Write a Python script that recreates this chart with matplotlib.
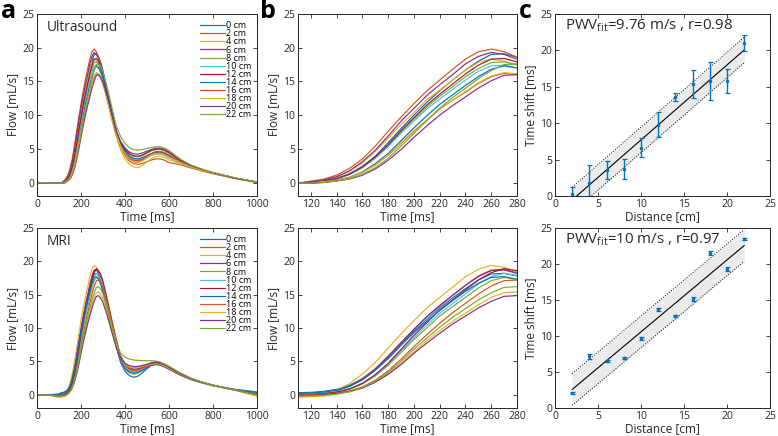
import matplotlib

matplotlib.use("Agg")
import matplotlib.pyplot as plt
import numpy as np

# ---- data ----
time_ms = [0, 60, 100, 110, 120, 130, 140, 150, 160, 170, 180, 190, 200, 210,
           220, 230, 240, 250, 260, 270, 280, 290, 300, 320, 340, 360, 380,
           400, 420, 440, 460, 480, 500, 520, 540, 560, 580, 600, 650, 700,
           750, 800, 900, 1000]
positions = ["0 cm", "2 cm", "4 cm", "6 cm", "8 cm", "10 cm", "12 cm",
             "14 cm", "16 cm", "18 cm", "20 cm", "22 cm"]

# ultrasound flow [mL/s]
us_0 = [0.0, -0.05, -0.1, -0.1, 0.0, 0.2, 0.6, 1.3, 2.4, 3.9, 5.9, 8.0, 10.0, 11.9, 13.6, 15.2, 16.7, 18.0, 19.0, 19.1, 18.6, 17.8, 16.6, 13.6, 10.6, 7.8, 5.6, 4.3, 3.5, 3.1, 3.0, 3.3, 3.65, 4.05, 4.25, 4.3, 4.1, 3.75, 2.95, 2.3, 1.8, 1.4, 0.65, 0.05]
us_2 = [0.0, -0.05, -0.1, -0.1, 0.2, 0.5, 1.1, 2.1, 3.5, 5.4, 7.6, 9.7, 11.7, 13.6, 15.2, 16.8, 18.3, 19.4, 19.8, 19.4, 18.6, 17.6, 16.1, 12.9, 9.8, 7.2, 5.2, 4.0, 3.15, 2.8, 2.7, 2.85, 3.1, 3.35, 3.5, 3.5, 3.3, 2.95, 2.65, 2.15, 1.7, 1.3, 0.6, 0.05]
us_4 = [0.0, -0.05, -0.1, -0.1, 0.15, 0.37, 0.82, 1.65, 2.9, 4.6, 6.6, 8.6, 10.4, 12.3, 13.7, 15.2, 16.7, 17.8, 18.3, 18.0, 17.4, 16.5, 15.2, 12.3, 9.3, 6.9, 4.8, 3.5, 2.7, 2.3, 2.2, 2.55, 3.05, 3.55, 3.85, 3.9, 3.7, 3.35, 2.8, 2.25, 1.75, 1.35, 0.6, 0.0]
us_6 = [0.0, -0.05, -0.1, -0.1, 0.15, 0.39, 0.87, 1.74, 3.1, 4.8, 6.9, 9.1, 11.0, 12.9, 14.5, 16.0, 17.6, 18.7, 19.3, 19.0, 18.3, 17.4, 16.0, 12.9, 9.8, 7.2, 5.4, 4.3, 3.6, 3.3, 3.2, 3.5, 3.9, 4.3, 4.55, 4.6, 4.4, 4.05, 3.1, 2.4, 1.85, 1.4, 0.65, 0.05]
us_8 = [0.0, -0.05, -0.1, -0.1, 0.0, 0.25, 0.58, 1.2, 2.25, 3.7, 5.5, 7.5, 9.4, 11.2, 12.8, 14.2, 15.7, 16.9, 17.8, 17.9, 17.5, 16.7, 15.6, 12.8, 9.9, 7.3, 5.7, 4.8, 4.15, 3.87, 3.8, 4.0, 4.35, 4.7, 4.88, 4.9, 4.7, 4.35, 3.2, 2.45, 1.9, 1.45, 0.65, 0.05]
us_10 = [0.0, -0.05, -0.1, -0.1, 0.0, 0.25, 0.56, 1.17, 2.2, 3.6, 5.3, 7.3, 9.1, 10.9, 12.4, 13.8, 15.2, 16.5, 17.3, 17.4, 17.0, 16.2, 15.2, 12.4, 9.6, 7.1, 5.4, 4.4, 3.77, 3.47, 3.4, 3.55, 3.8, 4.05, 4.18, 4.2, 4.0, 3.65, 2.9, 2.25, 1.8, 1.4, 0.65, 0.05]
us_12 = [0.0, -0.05, -0.1, -0.1, 0.0, 0.26, 0.59, 1.24, 2.3, 3.8, 5.6, 7.7, 9.6, 11.5, 13.1, 14.6, 16.1, 17.4, 18.3, 18.4, 17.9, 17.1, 16.0, 13.1, 10.2, 7.5, 5.9, 4.9, 4.26, 3.97, 3.9, 4.1, 4.45, 4.8, 4.98, 5.0, 4.8, 4.45, 3.3, 2.5, 1.9, 1.45, 0.65, 0.05]
us_14 = [0.0, -0.05, -0.1, -0.1, -0.1, 0.14, 0.35, 0.78, 1.56, 2.8, 4.3, 6.2, 8.1, 9.9, 11.6, 13.0, 14.4, 15.7, 16.8, 17.3, 17.0, 16.4, 15.6, 13.0, 10.2, 7.6, 5.75, 4.65, 3.9, 3.58, 3.5, 3.7, 4.0, 4.3, 4.48, 4.5, 4.3, 3.95, 3.0, 2.3, 1.8, 1.4, 0.65, 0.05]
us_16 = [0.0, -0.05, -0.1, -0.1, -0.1, 0.13, 0.32, 0.73, 1.46, 2.6, 4.05, 5.8, 7.6, 9.2, 10.9, 12.2, 13.4, 14.7, 15.7, 16.2, 16.0, 15.4, 14.6, 12.2, 9.6, 7.1, 5.35, 4.3, 3.6, 3.28, 3.2, 3.5, 3.9, 4.3, 4.55, 4.6, 4.4, 4.05, 3.1, 2.4, 1.85, 1.4, 0.65, 0.05]
us_18 = [0.0, -0.05, -0.1, -0.1, -0.1, 0.13, 0.33, 0.73, 1.47, 2.6, 4.1, 5.9, 7.7, 9.3, 10.9, 12.2, 13.5, 14.8, 15.8, 16.3, 16.1, 15.5, 14.7, 12.2, 9.6, 7.2, 5.3, 4.2, 3.4, 3.1, 3.0, 3.25, 3.65, 4.05, 4.27, 4.3, 4.1, 3.75, 2.95, 2.3, 1.8, 1.4, 0.65, 0.0]
us_20 = [0.0, -0.05, -0.1, -0.1, -0.1, 0.0, 0.23, 0.52, 1.08, 2.0, 3.3, 4.9, 6.7, 8.4, 10.0, 11.4, 12.7, 14.0, 15.1, 15.9, 16.0, 15.6, 14.9, 12.7, 10.1, 7.6, 6.1, 5.15, 4.5, 4.27, 4.2, 4.4, 4.65, 4.9, 5.08, 5.1, 4.9, 4.55, 3.35, 2.5, 1.95, 1.45, 0.65, 0.05]
us_22 = [0.0, -0.05, -0.1, -0.1, -0.1, 0.0, 0.25, 0.57, 1.19, 2.2, 3.6, 5.4, 7.3, 9.2, 11.0, 12.6, 14.0, 15.4, 16.6, 17.5, 17.6, 17.2, 16.4, 14.0, 11.2, 8.4, 6.8, 5.8, 5.15, 4.87, 4.8, 4.9, 5.05, 5.2, 5.3, 5.3, 5.1, 4.75, 3.5, 2.6, 2.0, 1.5, 0.7, 0.1]

# MRI flow [mL/s]
mri_0 = [0.0, 0.0, 0.1, 0.3, 0.35, 0.5, 0.8, 1.4, 2.4, 3.75, 5.6, 7.6, 9.5, 11.3, 13.0, 14.5, 15.9, 17.2, 18.1, 18.2, 17.8, 17.0, 15.9, 13.0, 10.1, 7.4, 4.8, 3.5, 2.85, 2.6, 2.8, 3.3, 3.9, 4.4, 4.6, 4.5, 4.25, 3.9, 3.0, 2.3, 1.8, 1.4, 0.8, 0.4]
mri_2 = [0.0, -0.1, -0.1, 0.1, 0.15, 0.3, 0.65, 1.27, 2.4, 3.9, 5.8, 7.8, 9.8, 11.7, 13.4, 14.9, 16.4, 17.8, 18.7, 18.8, 18.3, 17.5, 16.4, 13.4, 10.4, 7.7, 5.3, 4.1, 3.5, 3.3, 3.45, 3.85, 4.35, 4.75, 4.9, 4.8, 4.55, 4.2, 3.2, 2.4, 1.85, 1.4, 0.7, 0.0]
mri_4 = [0.0, -0.1, -0.4, -0.4, -0.24, 0.1, 0.7, 1.65, 3.1, 4.85, 7.0, 9.1, 11.1, 13.0, 14.6, 16.1, 17.7, 18.8, 19.4, 19.1, 18.4, 17.5, 16.1, 13.0, 9.9, 7.3, 4.9, 3.8, 3.2, 3.0, 3.2, 3.6, 4.1, 4.55, 4.7, 4.6, 4.35, 4.0, 3.1, 2.35, 1.8, 1.35, 0.65, -0.2]
mri_6 = [0.0, -0.1, -0.2, 0.0, 0.05, 0.26, 0.6, 1.26, 2.35, 3.85, 5.7, 7.8, 9.8, 11.7, 13.3, 14.9, 16.4, 17.7, 18.6, 18.7, 18.2, 17.4, 16.3, 13.3, 10.3, 7.7, 5.45, 4.35, 3.8, 3.6, 3.7, 4.0, 4.4, 4.7, 4.8, 4.7, 4.45, 4.1, 3.15, 2.4, 1.85, 1.4, 0.7, 0.1]
mri_8 = [0.0, -0.05, -0.1, 0.1, 0.1, 0.25, 0.4, 0.8, 1.6, 2.8, 4.4, 6.3, 8.3, 10.0, 11.8, 13.2, 14.6, 16.0, 17.1, 17.6, 17.3, 16.7, 15.8, 13.2, 10.4, 7.7, 5.7, 4.65, 4.2, 4.0, 4.1, 4.3, 4.5, 4.7, 4.8, 4.7, 4.45, 4.1, 3.15, 2.4, 1.85, 1.4, 0.7, 0.0]
mri_10 = [0.0, 0.0, 0.0, 0.2, 0.2, 0.35, 0.5, 0.9, 1.7, 2.9, 4.55, 6.55, 8.55, 10.4, 12.2, 13.65, 15.1, 16.6, 17.7, 18.2, 17.9, 17.3, 16.4, 13.65, 10.7, 8.0, 5.5, 4.2, 3.65, 3.4, 3.5, 3.8, 4.2, 4.5, 4.6, 4.5, 4.25, 3.9, 3.0, 2.3, 1.8, 1.4, 0.75, 0.3]
mri_12 = [0.0, -0.1, -0.2, 0.0, 0.0, 0.15, 0.38, 0.85, 1.7, 3.0, 4.7, 6.8, 8.9, 10.8, 12.7, 14.2, 15.7, 17.2, 18.3, 18.9, 18.6, 18.0, 17.0, 14.2, 11.2, 8.3, 5.8, 4.6, 4.05, 3.8, 3.9, 4.2, 4.5, 4.8, 4.9, 4.8, 4.55, 4.2, 3.2, 2.4, 1.85, 1.4, 0.7, 0.1]
mri_14 = [0.0, 0.0, 0.0, 0.2, 0.25, 0.4, 0.7, 1.25, 2.2, 3.65, 5.4, 7.4, 9.3, 11.0, 12.6, 14.1, 15.5, 16.7, 17.6, 17.7, 17.3, 16.5, 15.4, 12.6, 9.8, 7.2, 5.0, 3.9, 3.4, 3.2, 3.35, 3.65, 4.05, 4.4, 4.5, 4.4, 4.15, 3.8, 2.95, 2.25, 1.75, 1.35, 0.75, 0.35]
mri_16 = [0.0, -0.1, -0.2, 0.0, 0.0, 0.07, 0.24, 0.55, 1.16, 2.16, 3.55, 5.3, 7.2, 9.0, 10.7, 12.3, 13.7, 15.1, 16.3, 17.1, 17.2, 16.8, 16.0, 13.7, 10.9, 8.2, 5.7, 4.45, 3.85, 3.6, 3.7, 3.95, 4.25, 4.5, 4.6, 4.5, 4.25, 3.9, 3.0, 2.3, 1.8, 1.35, 0.7, 0.0]
mri_18 = [0.0, -0.1, -0.3, -0.3, -0.3, -0.2, 0.05, 0.4, 1.0, 1.94, 3.2, 4.7, 6.4, 8.1, 9.6, 11.0, 12.2, 13.5, 14.6, 15.3, 15.4, 15.0, 14.4, 12.2, 9.8, 7.4, 5.5, 4.6, 4.15, 4.0, 4.05, 4.25, 4.45, 4.65, 4.7, 4.6, 4.35, 4.0, 3.1, 2.35, 1.8, 1.35, 0.65, -0.2]
mri_20 = [0.0, -0.1, -0.2, -0.1, -0.1, 0.0, 0.2, 0.48, 1.0, 1.86, 3.05, 4.5, 6.2, 7.75, 9.2, 10.6, 11.8, 13.0, 14.0, 14.75, 14.85, 14.45, 13.8, 11.8, 9.4, 7.1, 5.5, 4.7, 4.35, 4.2, 4.25, 4.4, 4.55, 4.75, 4.8, 4.7, 4.45, 4.1, 3.15, 2.4, 1.85, 1.4, 0.7, 0.0]
mri_22 = [0.0, -0.1, -0.2, -0.2, -0.2, -0.1, 0.1, 0.45, 1.1, 2.0, 3.35, 5.0, 6.8, 8.5, 10.1, 11.6, 12.9, 14.2, 15.3, 16.1, 16.2, 15.8, 15.1, 12.9, 10.3, 7.7, 6.2, 5.6, 5.35, 5.2, 5.15, 5.1, 5.1, 5.1, 5.05, 4.9, 4.6, 4.25, 3.3, 2.5, 1.9, 1.45, 0.7, 0.0]

# time shift vs distance (panel c)
distance_cm = [2, 4, 6, 8, 10, 12, 14, 16, 18, 20, 22]
us_shift = [0.3, 1.8, 3.6, 3.7, 6.6, 9.8, 13.6, 15.4, 15.8, 15.8, 21.0]
us_shift_err = [1.0, 2.4, 1.2, 1.35, 1.3, 1.7, 0.5, 1.9, 2.6, 1.65, 1.15]
mri_shift = [2.1, 7.2, 6.5, 6.9, 9.7, 13.7, 12.8, 15.1, 21.5, 19.3, 23.5]
mri_shift_err = [0.15, 0.35, 0.1, 0.15, 0.2, 0.2, 0.1, 0.3, 0.25, 0.3, 0.15]
us_band = 1.75
mri_band = 2.2
us_fit_label = "PWV$_{\\mathrm{fit}}$=9.76 m/s , r=0.98"
mri_fit_label = "PWV$_{\\mathrm{fit}}$=10 m/s , r=0.97"

MATLAB_COLORS = ["#0072BD", "#D95319", "#EDB120", "#7E2F8E",
                 "#77AC30", "#4DBEEE", "#A2142F"]
AX_COLOR = "#262626"

plt.rcParams["font.family"] = ["Open Sans", "DejaVu Sans"]
plt.rcParams["mathtext.fontset"] = "custom"
plt.rcParams["mathtext.rm"] = "Open Sans"
plt.rcParams["mathtext.it"] = "Open Sans"


def style_axes(ax):
    for sp in ax.spines.values():
        sp.set_color(AX_COLOR)
        sp.set_linewidth(0.7)
    ax.tick_params(direction="in", top=True, right=True, length=3,
                   width=0.6, color=AX_COLOR, labelsize=7.5,
                   labelcolor=AX_COLOR, pad=2)


def plot_flow(ax, curves, xlim, xticks, title=None, legend=False):
    for i, (y, lab) in enumerate(zip(curves, positions)):
        ax.plot(time_ms, y, color=MATLAB_COLORS[i % 7], lw=0.85, label=lab)
    ax.set_xlim(*xlim)
    ax.set_ylim(-2, 25)
    ax.set_xticks(xticks)
    ax.set_yticks([0, 5, 10, 15, 20, 25])
    ax.set_xlabel("Time [ms]", fontsize=8.5, color=AX_COLOR, labelpad=0)
    ax.set_ylabel("Flow [mL/s]", fontsize=8.5, color=AX_COLOR, labelpad=2)
    style_axes(ax)
    if title:
        ax.text(0.045, 0.905, title, transform=ax.transAxes, fontsize=9.8,
                color=AX_COLOR)
    if legend:
        ax.legend(loc="upper right", bbox_to_anchor=(0.975, 0.96),
                  frameon=False, fontsize=6.5, labelspacing=-0.1,
                  handlelength=2.7, handletextpad=0.15, borderpad=0,
                  borderaxespad=0)


def plot_shift(ax, shift, err, band, label):
    x = np.array(distance_cm, dtype=float)
    slope, icpt = np.polyfit(x, shift, 1)
    fit = slope * x + icpt
    ax.fill_between(x, fit - band, fit + band, color="#ebebeb", lw=0, zorder=1)
    ax.plot(x, fit + band, ":", color="k", lw=0.7, zorder=2)
    ax.plot(x, fit - band, ":", color="k", lw=0.7, zorder=2)
    ax.plot(x, fit, "-", color="k", lw=0.8, zorder=2)
    ax.errorbar(x, shift, yerr=err, fmt=".", color=MATLAB_COLORS[0],
                ms=3, capsize=1.8, elinewidth=1.0, capthick=0.9, zorder=3)
    ax.set_xlim(0, 25)
    ax.set_ylim(0, 25)
    ax.set_xticks([0, 5, 10, 15, 20, 25])
    ax.set_yticks([0, 5, 10, 15, 20, 25])
    ax.set_xlabel("Distance [cm]", fontsize=8.5, color=AX_COLOR, labelpad=0)
    ax.set_ylabel("Time shift [ms]", fontsize=8.5, color=AX_COLOR, labelpad=2)
    style_axes(ax)
    ax.text(0.045, 0.915, label, transform=ax.transAxes, fontsize=10.8,
            color=AX_COLOR)


us_curves = [us_0, us_2, us_4, us_6, us_8, us_10, us_12, us_14, us_16,
             us_18, us_20, us_22]
mri_curves = [mri_0, mri_2, mri_4, mri_6, mri_8, mri_10, mri_12, mri_14,
              mri_16, mri_18, mri_20, mri_22]

fig = plt.figure(figsize=(7.78, 4.36), dpi=100)
W, H = 778.0, 436.0
cols = [(37, 257), (298, 517), (555, 770)]
rows = [(14, 196), (228, 408)]
axes = {}
for r, (top, bot) in enumerate(rows):
    for c, (left, right) in enumerate(cols):
        axes[r, c] = fig.add_axes([left / W, 1 - bot / H, (right - left) / W,
                                   (bot - top) / H])

plot_flow(axes[0, 0], us_curves, (0, 1000), range(0, 1001, 200),
          title="Ultrasound", legend=True)
plot_flow(axes[1, 0], mri_curves, (0, 1000), range(0, 1001, 200),
          title="MRI", legend=True)
plot_flow(axes[0, 1], us_curves, (110, 280), range(120, 281, 20))
plot_flow(axes[1, 1], mri_curves, (110, 280), range(120, 281, 20))
plot_shift(axes[0, 2], us_shift, us_shift_err, us_band, us_fit_label)
plot_shift(axes[1, 2], mri_shift, mri_shift_err, mri_band, mri_fit_label)

for letter, xpx in [("a", 1), ("b", 260), ("c", 519)]:
    fig.text(xpx / W, 1 - 18 / H, letter, fontsize=18, fontweight="bold",
             color="k", va="baseline", ha="left")

fig.savefig("out.png", dpi=100)
